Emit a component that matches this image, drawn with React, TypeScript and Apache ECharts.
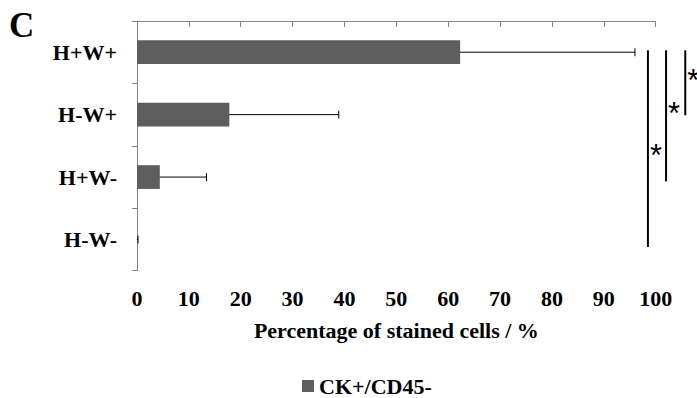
import React, { useEffect, useRef } from "react";
import * as echarts from "echarts";

const categories = ["H+W+", "H-W+", "H+W-", "H-W-"];
const meanValues = [62.3, 17.8, 4.4, 0];
const errorLow = [29.0, 0, 0, 0];
const errorHigh = [96.0, 38.9, 13.4, 0.2];
const seriesName = "CK+/CD45-";
const panelLabel = "C";
const xAxisName = "Percentage of stained cells / %";
// significance brackets (x in %, y in band units from top)
const bracketX = [98.5, 102, 105.7];
const bracketFrom = [0.47, 0.47, 0.47];
const bracketTo = [3.62, 2.57, 1.51];
const starY = [2.16, 1.48, 0.96];
const starText = ["*", "*", "*"];

const FONT = "'Liberation Serif', 'Times New Roman', serif";
const AXIS_GREY = "#868686";

export default function App() {
  const ref = useRef<HTMLDivElement>(null);
  useEffect(() => {
    if (!ref.current) return;
    const chart = echarts.init(ref.current, undefined, { renderer: "svg" });
    const errData = categories.map((_, i) => [errorLow[i], errorHigh[i], i]);
    const bracketData = bracketX.map((x, i) => [x, bracketFrom[i], bracketTo[i], starY[i], i]);
    chart.setOption({
      animation: false,
      backgroundColor: "#ffffff",
      title: {
        text: panelLabel,
        left: 9,
        top: 8,
        padding: 0,
        textStyle: { fontFamily: FONT, fontWeight: "bold", fontSize: 35, color: "#000" },
      },
      legend: {
        data: [seriesName],
        left: 302,
        top: 375,
        padding: 0,
        icon: "rect",
        itemWidth: 12,
        itemHeight: 12,
        textStyle: { fontFamily: FONT, fontWeight: "bold", fontSize: 22, color: "#000" },
      },
      grid: { left: 137, right: 41.3, top: 21, bottom: 127.3, containLabel: false },
      xAxis: {
        type: "value",
        min: 0,
        max: 100,
        interval: 10,
        name: xAxisName,
        nameLocation: "middle",
        nameGap: 49,
        nameTextStyle: { fontFamily: FONT, fontWeight: "bold", fontSize: 22, color: "#000" },
        splitLine: { show: false },
        axisLine: { show: true, lineStyle: { color: AXIS_GREY, width: 1 } },
        axisTick: { show: true, length: 6, lineStyle: { color: AXIS_GREY } },
        axisLabel: { margin: 17, fontFamily: FONT, fontWeight: "bold", fontSize: 22, color: "#000" },
      },
      yAxis: [
        {
          type: "category",
          data: categories,
          inverse: true,
          axisLine: { show: true, lineStyle: { color: AXIS_GREY, width: 1 } },
          axisTick: { show: true, length: 5, alignWithLabel: false, lineStyle: { color: AXIS_GREY } },
          axisLabel: { margin: 20, fontFamily: FONT, fontWeight: "bold", fontSize: 22, color: "#000" },
        },
        { type: "value", min: 0, max: 4, inverse: true, show: false },
      ],
      series: [
        {
          name: seriesName,
          type: "bar",
          data: meanValues,
          barWidth: "38%",
          itemStyle: { color: "#5e5e5e" },
          yAxisIndex: 0,
        },
        {
          name: "error",
          type: "custom",
          yAxisIndex: 0,
          data: errData,
          encode: { x: [0, 1], y: 2 },
          clip: false,
          renderItem: (params: any, api: any) => {
            const lo = api.coord([api.value(0), api.value(2)]);
            const hi = api.coord([api.value(1), api.value(2)]);
            const style = { stroke: "#000", lineWidth: 1 };
            const children: any[] = [
              { type: "line", shape: { x1: lo[0], y1: lo[1], x2: hi[0], y2: hi[1] }, style },
              { type: "line", shape: { x1: hi[0], y1: hi[1] - 4, x2: hi[0], y2: hi[1] + 4 }, style },
            ];
            if (api.value(0) > 0) {
              children.push({ type: "line", shape: { x1: lo[0], y1: lo[1] - 4, x2: lo[0], y2: lo[1] + 4 }, style });
            }
            return { type: "group", children };
          },
        },
        {
          name: "significance",
          type: "custom",
          yAxisIndex: 1,
          data: bracketData,
          encode: { x: 0, y: [1, 2] },
          clip: false,
          renderItem: (params: any, api: any) => {
            const a = api.coord([api.value(0), api.value(1)]);
            const b = api.coord([api.value(0), api.value(2)]);
            const s = api.coord([api.value(0), api.value(3)]);
            return {
              type: "group",
              children: [
                { type: "line", shape: { x1: a[0], y1: a[1], x2: b[0], y2: b[1] }, style: { stroke: "#000", lineWidth: 2 } },
                {
                  type: "text",
                  x: s[0] + 2,
                  y: s[1],
                  style: {
                    text: starText[api.value(4)],
                    fontFamily: "'Liberation Sans', Arial, sans-serif",
                    fontSize: 31,
                    fill: "#000",
                    align: "left",
                    verticalAlign: "middle",
                  },
                },
              ],
            };
          },
        },
      ],
    });
    return () => chart.dispose();
  }, []);
  return <div ref={ref} style={{ position: "fixed", left: 0, top: 0, width: 697, height: 398 }} />;
}
